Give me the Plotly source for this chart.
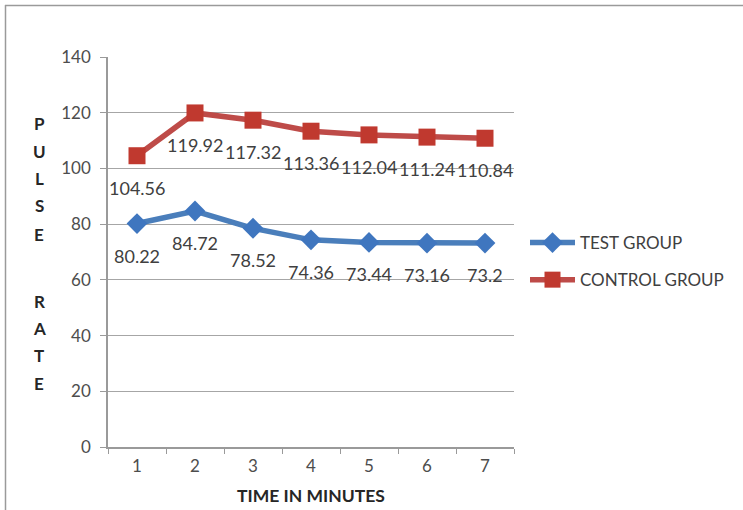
import plotly.graph_objects as go

minutes = ["1", "2", "3", "4", "5", "6", "7"]
test_group = [80.22, 84.72, 78.52, 74.36, 73.44, 73.16, 73.2]
control_group = [104.56, 119.92, 117.32, 113.36, 112.04, 111.24, 110.84]
test_labels = ["80.22", "84.72", "78.52", "74.36", "73.44", "73.16", "73.2"]
control_labels = ["104.56", "119.92", "117.32", "113.36", "112.04", "111.24", "110.84"]
y_title_letters = ["P", "U", "L", "S", "E", "", "R", "A", "T", "E"]

FONT = "Lato"
W, H = 743, 510
L, R, T, B = 108, 229, 57, 63
PW, PH = W - L - R, H - T - B

def px(x):
    return (x - L) / PW

def py(y):
    return (H - B - y) / PH

blue_line = "#4A7EBB"
blue_mark = "#3F76BF"
red_line = "#BE4B48"
red_mark = "#C0392F"

fig = go.Figure()
fig.add_trace(go.Scatter(
    x=minutes, y=test_group, name="TEST GROUP", mode="lines+markers",
    line=dict(color=blue_line, width=5.5),
    marker=dict(symbol="diamond", size=16, color=blue_mark),
    legendgroup="a",
))
fig.add_trace(go.Scatter(
    x=minutes, y=control_group, name="CONTROL GROUP", mode="lines+markers",
    line=dict(color=red_line, width=5.5),
    marker=dict(symbol="square", size=17, color=red_mark),
    legendgroup="b",
))

annotations = []
for ys, labs in [(test_group, test_labels), (control_group, control_labels)]:
    for i, (yv, lab) in enumerate(zip(ys, labs)):
        annotations.append(dict(
            x=i, y=yv, xref="x", yref="y", text=lab, showarrow=False,
            yshift=-32, font=dict(family=FONT, size=18, color="#404040"),
        ))

# vertical stacked y title
letter_y = [124, 151, 178, 205, 234, 268, 301, 328, 355, 383]
for ch, yy in zip(y_title_letters, letter_y):
    if ch:
        annotations.append(dict(
            x=px(39), y=py(yy), xref="paper", yref="paper", text="<b>%s</b>" % ch,
            showarrow=False, xanchor="center", yanchor="middle",
            font=dict(family=FONT, size=17, color="#262626"),
        ))

annotations.append(dict(
    x=0.5, y=py(495), xref="paper", yref="paper", text="<b>TIME IN MINUTES</b>",
    showarrow=False, xanchor="center", yanchor="middle",
    font=dict(family=FONT, size=17.5, color="#262626"),
))

shapes = [
    dict(type="line", xref="paper", yref="paper", x0=px(5), x1=px(745), y0=py(5.5), y1=py(5.5),
         line=dict(color="#9a9a9a", width=1.5)),
    dict(type="line", xref="paper", yref="paper", x0=px(5.5), x1=px(5.5), y0=py(5), y1=py(515),
         line=dict(color="#9a9a9a", width=1.5)),
]

fig.update_layout(
    width=W, height=H,
    margin=dict(l=L, r=R, t=T, b=B, autoexpand=False),
    paper_bgcolor="white", plot_bgcolor="white",
    font=dict(family=FONT, color="#4d4d4d"),
    showlegend=True,
    legend=dict(
        x=px(525), y=py(225), xanchor="left", yanchor="top",
        font=dict(family=FONT, size=17, color="#404040"),
        traceorder="grouped", tracegroupgap=12,
        bgcolor="rgba(0,0,0,0)", itemwidth=45,
    ),
    annotations=annotations,
    shapes=shapes,
    xaxis=dict(
        type="category", tickson="boundaries", ticks="outside", ticklen=5,
        tickcolor="#9a9a9a", showline=True, linecolor="#9a9a9a", linewidth=1.5,
        showgrid=False, tickfont=dict(family=FONT, size=17, color="#4d4d4d"),
        ticklabelstandoff=3, range=[-0.5, 6.5], fixedrange=True,
    ),
    yaxis=dict(
        range=[0, 140], dtick=20, ticks="outside", ticklen=6, tickcolor="#9a9a9a",
        showline=True, linecolor="#9a9a9a", linewidth=1.5,
        showgrid=True, gridcolor="#a6a6a6", gridwidth=1.2, zeroline=False,
        tickfont=dict(family=FONT, size=17, color="#4d4d4d"),
        ticklabelstandoff=6,
    ),
)

fig.write_html("out.html")
